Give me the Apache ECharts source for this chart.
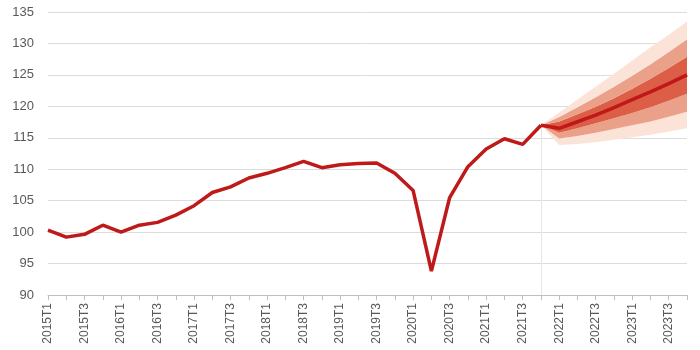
<!DOCTYPE html>
<html>
<head>
<meta charset="utf-8">
<script src="https://cdn.jsdelivr.net/npm/echarts@6/dist/echarts.min.js"></script>
<style>html,body{margin:0;padding:0;background:#fff}#c{width:700px;height:350px}</style>
</head>
<body>
<div id="c"></div>
<script>
const quarters = [];
for (let y = 2015; y <= 2023; y++) for (let q = 1; q <= 4; q++) quarters.push(y + 'T' + q);

const history = [100.3, 99.2, 99.65, 101.1, 100.0, 101.1, 101.55, 102.7, 104.2, 106.3, 107.2, 108.6,
  109.35, 110.25, 111.25, 110.25, 110.7, 110.9, 111.0, 109.35, 106.6, 93.8, 105.5, 110.4,
  113.2, 114.85, 113.95, 117.0];
// forecast from 2021T4 to 2023T4
const forecastCenter = [117.0, 116.5, 117.55, 118.6, 119.8, 121.05, 122.3, 123.6, 125.0];
const outerLower = [117.0, 113.85, 114.0, 114.3, 114.7, 115.1, 115.5, 116.0, 116.5];
const midLower   = [117.0, 114.9, 115.3, 115.8, 116.4, 117.0, 117.6, 118.35, 119.15];
const darkLower  = [117.0, 115.8, 116.5, 117.3, 118.1, 118.95, 119.85, 120.9, 122.0];
const darkUpper  = [117.0, 117.6, 118.75, 119.95, 121.3, 122.8, 124.4, 126.1, 127.9];
const midUpper   = [117.0, 118.3, 119.85, 121.45, 123.1, 124.85, 126.7, 128.65, 130.65];
const outerUpper = [117.0, 119.0, 121.1, 123.1, 125.2, 127.3, 129.4, 131.4, 133.5];

const yTicks = { min: 90, max: 135, interval: 5 };

const startIdx = history.length - 1;
const pad = (arr) => quarters.map((q, i) => (i >= startIdx && i - startIdx < arr.length) ? arr[i - startIdx] : '-');
const diff = (a, b) => a.map((v, i) => +(v - b[i]).toFixed(3));

const bands = [
  { data: outerLower, color: 'rgba(0,0,0,0)' },
  { data: diff(midLower, outerLower), color: '#FBE3D8' },
  { data: diff(darkLower, midLower), color: '#EBA089' },
  { data: diff(darkUpper, darkLower), color: '#DC5E47' },
  { data: diff(midUpper, darkUpper), color: '#EBA089' },
  { data: diff(outerUpper, midUpper), color: '#FBE3D8' }
];

const series = bands.map((b, i) => ({
  type: 'line',
  stack: 'fan',
  data: pad(b.data),
  symbol: 'none',
  silent: true,
  lineStyle: { width: 0, opacity: 0 },
  areaStyle: { color: b.color, opacity: 1 },
  z: 1
}));

series.push({
  type: 'line',
  data: quarters.map((q, i) => i < history.length ? history[i] : '-'),
  symbol: 'none',
  lineStyle: { color: '#BE1A1A', width: 3.5 },
  z: 5,
  markLine: {
    silent: true,
    symbol: 'none',
    label: { show: false },
    lineStyle: { color: '#E6E6E6', width: 1, type: 'solid' },
    data: [[{ coord: [quarters[startIdx], history[startIdx]] }, { coord: [quarters[startIdx], yTicks.min] }]]
  }
});
series.push({
  type: 'line',
  data: pad(forecastCenter),
  symbol: 'none',
  lineStyle: { color: '#C01818', width: 3.5 },
  z: 6
});

const chart = echarts.init(document.getElementById('c'), null, { renderer: 'canvas' });
chart.setOption({
  animation: false,
  backgroundColor: '#fff',
  grid: { left: 48, right: 13, top: 12, bottom: 55 },
  xAxis: {
    type: 'category',
    data: quarters,
    boundaryGap: false,
    axisLine: { lineStyle: { color: '#BFBFBF', width: 1 } },
    axisTick: { show: true, interval: 0, length: 5, lineStyle: { color: '#BFBFBF' } },
    axisLabel: { interval: 1, rotate: 90, color: '#595959', fontSize: 12, fontFamily: 'Liberation Sans', margin: 8 },
    splitLine: { show: false }
  },
  yAxis: {
    type: 'value',
    min: yTicks.min, max: yTicks.max, interval: yTicks.interval,
    axisLine: { show: false },
    axisTick: { show: false },
    axisLabel: { color: '#595959', fontSize: 13, fontFamily: 'Liberation Sans', margin: 14 },
    splitLine: { lineStyle: { color: '#DCDCDC', width: 1 } }
  },
  series: series
});
</script>
</body>
</html>
